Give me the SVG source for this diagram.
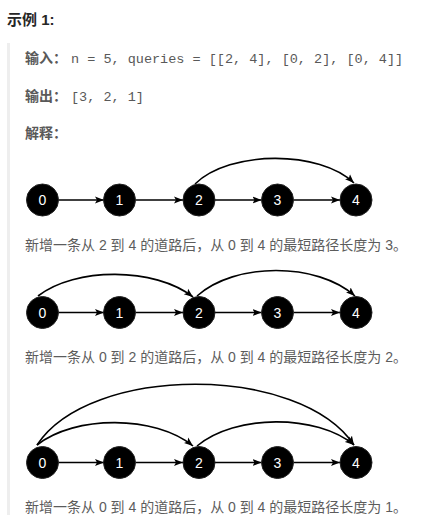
<svg xmlns="http://www.w3.org/2000/svg" width="428" height="526" viewBox="0 0 428 526">
<style>
.h{font-family:"Liberation Sans","Noto Sans CJK SC",sans-serif;font-size:15px;font-weight:bold;fill:#262626}
.lb{font-family:"Liberation Sans","Noto Sans CJK SC",sans-serif;font-size:14px;font-weight:bold;fill:#595959}
.mono{font-family:"Liberation Mono","DejaVu Sans Mono",monospace;font-size:13.5px;fill:#595959}
.cap{font-family:"Liberation Sans","Noto Sans CJK SC",sans-serif;font-size:14px;fill:#5c5c5c}
.nd circle{fill:#000;stroke:#222;stroke-width:1}
.nd text{font-family:"Liberation Sans",Arial,sans-serif;font-size:14px;fill:#fff;text-anchor:middle}
.e{fill:none;stroke:#000;stroke-width:1.6;marker-end:url(#ah)}
</style>
<defs>
<marker id="ah" markerWidth="10" markerHeight="8" refX="9" refY="4" orient="auto" markerUnits="userSpaceOnUse">
<path d="M0,0.5 L9,4 L0,7.5 L2,4 z" fill="#000"/>
</marker>
</defs>
<rect width="428" height="526" fill="#fff"/>
<text class="h" x="7" y="25">示例 1:</text>
<rect x="7" y="43" width="3" height="472" fill="#eeeeee"/>
<text class="lb" x="25" y="63">输入：</text>
<text class="mono" x="71" y="63">n = 5, queries = [[2, 4], [0, 2], [0, 4]]</text>
<text class="lb" x="25" y="101">输出：</text>
<text class="mono" x="71" y="101">[3, 2, 1]</text>
<text class="lb" x="25" y="138">解释：</text>

<g id="connectors">
<!-- graph 1 -->
<line class="e" x1="58.5" y1="200" x2="104" y2="200"/>
<line class="e" x1="135.5" y1="200" x2="183" y2="200"/>
<line class="e" x1="215" y1="200" x2="261.5" y2="200"/>
<line class="e" x1="293.5" y1="200" x2="340" y2="200"/>
<path class="e" d="M195,184 C230,150 320,150 354,183"/>
<!-- graph 2 -->
<line class="e" x1="58.5" y1="312.5" x2="104" y2="312.5"/>
<line class="e" x1="135.5" y1="312.5" x2="183" y2="312.5"/>
<line class="e" x1="215" y1="312.5" x2="261.5" y2="312.5"/>
<line class="e" x1="293.5" y1="312.5" x2="340" y2="312.5"/>
<path class="e" d="M38,296 C75,267 155,267 193,297"/>
<path class="e" d="M197,296 C235,262 317,262 355,296"/>
<!-- graph 3 -->
<line class="e" x1="58.5" y1="462.5" x2="104" y2="462.5"/>
<line class="e" x1="135.5" y1="462.5" x2="183" y2="462.5"/>
<line class="e" x1="215" y1="462.5" x2="261.5" y2="462.5"/>
<line class="e" x1="293.5" y1="462.5" x2="340" y2="462.5"/>
<path class="e" d="M37,445 C90,364 300,364 354,445"/>
<path class="e" d="M37,445 C75,415 155,415 193,446"/>
<path class="e" d="M197,446 C235,414 317,414 354,445"/>
</g>

<g id="g1n0" class="nd"><circle cx="42.5" cy="200" r="16"/><text x="42.5" y="205">0</text></g>
<g id="g1n1" class="nd"><circle cx="119.5" cy="200" r="16"/><text x="119.5" y="205">1</text></g>
<g id="g1n2" class="nd"><circle cx="199" cy="200" r="16"/><text x="199" y="205">2</text></g>
<g id="g1n3" class="nd"><circle cx="277.5" cy="200" r="16"/><text x="277.5" y="205">3</text></g>
<g id="g1n4" class="nd"><circle cx="356" cy="200" r="16"/><text x="356" y="205">4</text></g>
<text class="cap" x="25" y="250">新增一条从 2 到 4 的道路后，从 0 到 4 的最短路径长度为 3。</text>

<g id="g2n0" class="nd"><circle cx="42.5" cy="312.5" r="16"/><text x="42.5" y="317.5">0</text></g>
<g id="g2n1" class="nd"><circle cx="119.5" cy="312.5" r="16"/><text x="119.5" y="317.5">1</text></g>
<g id="g2n2" class="nd"><circle cx="199" cy="312.5" r="16"/><text x="199" y="317.5">2</text></g>
<g id="g2n3" class="nd"><circle cx="277.5" cy="312.5" r="16"/><text x="277.5" y="317.5">3</text></g>
<g id="g2n4" class="nd"><circle cx="356" cy="312.5" r="16"/><text x="356" y="317.5">4</text></g>
<text class="cap" x="25" y="362">新增一条从 0 到 2 的道路后，从 0 到 4 的最短路径长度为 2。</text>

<g id="g3n0" class="nd"><circle cx="42.5" cy="462.5" r="16"/><text x="42.5" y="467.5">0</text></g>
<g id="g3n1" class="nd"><circle cx="119.5" cy="462.5" r="16"/><text x="119.5" y="467.5">1</text></g>
<g id="g3n2" class="nd"><circle cx="199" cy="462.5" r="16"/><text x="199" y="467.5">2</text></g>
<g id="g3n3" class="nd"><circle cx="277.5" cy="462.5" r="16"/><text x="277.5" y="467.5">3</text></g>
<g id="g3n4" class="nd"><circle cx="356" cy="462.5" r="16"/><text x="356" y="467.5">4</text></g>
<text class="cap" x="25" y="512">新增一条从 0 到 4 的道路后，从 0 到 4 的最短路径长度为 1。</text>
</svg>
